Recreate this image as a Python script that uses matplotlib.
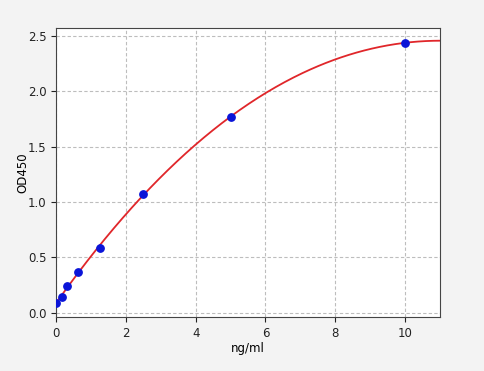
import numpy as np
import matplotlib
matplotlib.use("Agg")
import matplotlib.pyplot as plt

conc = [0, 0.156, 0.3125, 0.625, 1.25, 2.5, 5, 10]
od = [0.09, 0.145, 0.24, 0.37, 0.587, 1.074, 1.769, 2.437]

fig = plt.figure(figsize=(4.84, 3.71), dpi=100, facecolor="#f3f3f3")
ax = fig.add_axes([0.116, 0.146, 0.793, 0.779])
ax.set_facecolor("white")

coef = np.polyfit(conc, od, 3)
xs = np.linspace(0, 11, 300)
ax.plot(xs, np.polyval(coef, xs), color="#e0262a", lw=1.3, zorder=2)
ax.scatter(conc, od, color="#0a14d8", s=28, zorder=3)

ax.set_xlim(0, 11)
ax.set_ylim(-0.036, 2.572)
ax.set_xticks([0, 2, 4, 6, 8, 10])
ax.set_yticks([0.0, 0.5, 1.0, 1.5, 2.0, 2.5])
ax.grid(True, ls=(0, (3, 2)), color="#bdbdbd", lw=0.8)
ax.set_axisbelow(True)
ax.tick_params(labelsize=8.5, colors="#222222")
ax.set_xlabel("ng/ml", fontsize=8.5, labelpad=2)
ax.set_ylabel("OD450", fontsize=8.5, labelpad=-1)
for s in ax.spines.values():
    s.set_color("#444444")

fig.savefig("out.png", dpi=100, facecolor=fig.get_facecolor())
